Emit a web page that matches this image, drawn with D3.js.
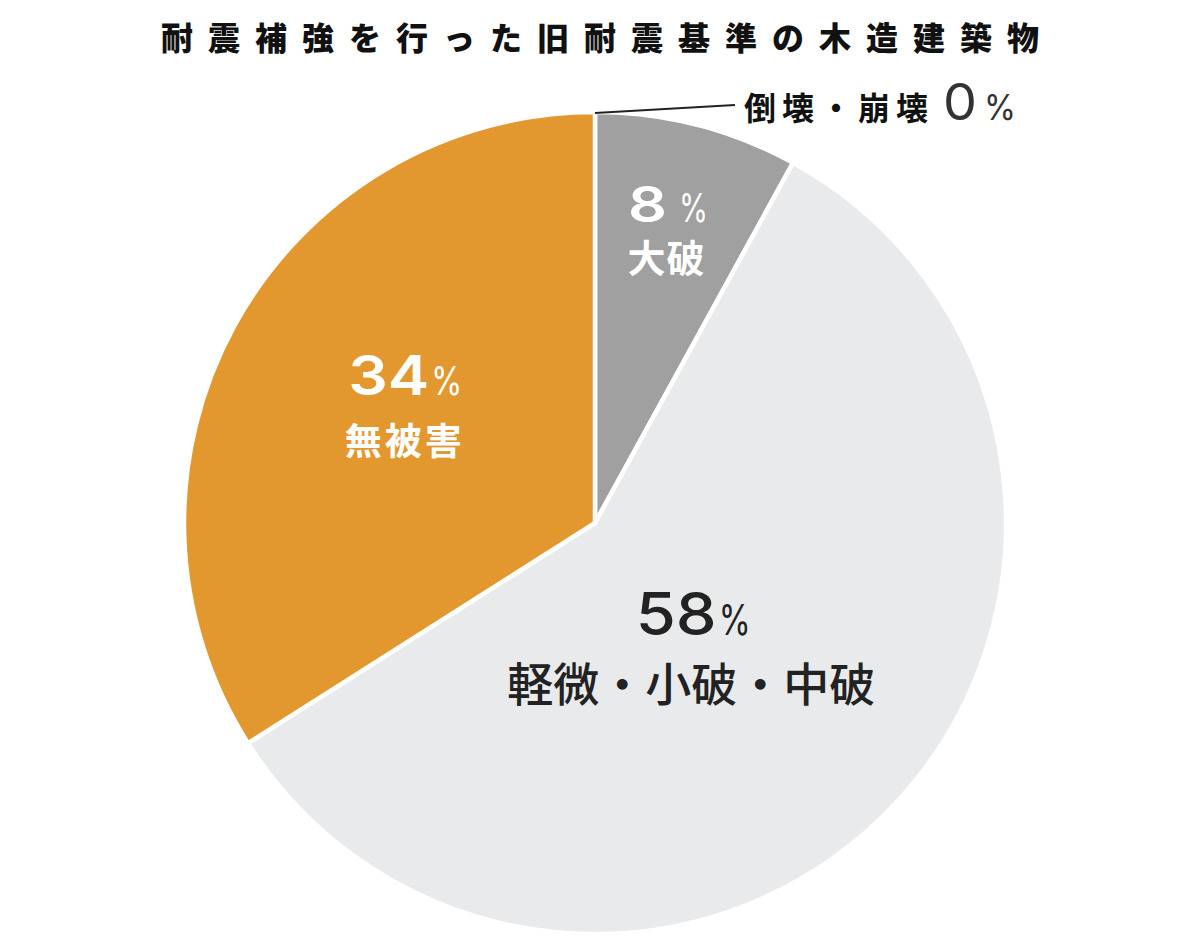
<!DOCTYPE html>
<html>
<head>
<meta charset="utf-8">
<script src="https://cdn.jsdelivr.net/npm/d3@7"></script>
<style>
  body { margin: 0; background: #fff; }
  svg { display: block; }
</style>
</head>
<body>
<svg id="chart" width="1200" height="942"></svg>
<script>
// data
var title = '耐震補強を行った旧耐震基準の木造建築物';
var categories = ['倒壊・崩壊', '大破', '軽微・小破・中破', '無被害'];
var percents = [0, 8, 58, 34];
var colors = ['#a0a0a0', '#a0a0a0', '#e9eaeb', '#e2982f'];

// label look per slice (kept apart from the data)
var labelStyle = {
  '倒壊・崩壊':      { fill: '#333', numSize: 51, numWeight: 400, numW: 34, gap: 7, pctSize: 36, pctW: 32 },
  '大破':            { r: 310, shift: -0.8, fill: '#fff', numSize: 49, numWeight: 600, numW: 39, gap: 12, pctSize: 39, pctW: 29 },
  '軽微・小破・中破': { r: 149, shift: 5.6, fill: '#222', numSize: 59, numWeight: 500, numW: 81, gap: 2, pctSize: 42, pctW: 32 },
  '無被害':          { r: 229, shift: 5.2, fill: '#fff', numSize: 55, numWeight: 600, numW: 81, gap: 2, pctSize: 39, pctW: 31 }
};
var nameStyle = {
  '大破':            { size: 38, weight: 700, space: 1, dy: 50 },
  '軽微・小破・中破': { size: 46, weight: 500, space: 0, dy: 66 },
  '無被害':          { size: 37, weight: 700, space: 3, dy: 60 }
};

var width = 1200, height = 942;
var cx = 595, cy = 523, radius = 411;
var numFont = 'Inter, "Noto Sans", sans-serif';
var jpFont = '"Noto Sans CJK JP", "Noto Sans", sans-serif';

var svg = d3.select('#chart');

svg.append('text')
  .attr('x', width / 2 + 7.5)
  .attr('y', 50)
  .attr('text-anchor', 'middle')
  .style('font-family', jpFont)
  .style('font-size', '32px')
  .style('font-weight', 900)
  .style('letter-spacing', '15px')
  .style('fill', '#111')
  .text(title);

var rows = categories.map(function(c, i) {
  return { name: c, value: percents[i], color: colors[i] };
});

var pie = d3.pie()
  .sort(null)
  .value(function(d) { return d.value; });

var arc = d3.arc()
  .innerRadius(0)
  .outerRadius(radius);

var slices = pie(rows);

var g = svg.append('g')
  .attr('transform', 'translate(' + cx + ',' + cy + ')');

g.selectAll('path.slice')
  .data(slices.filter(function(d) { return d.value > 0; }))
  .enter().append('path')
  .attr('class', 'slice')
  .attr('d', arc)
  .style('fill', function(d) { return d.data.color; })
  .style('stroke', '#fff')
  .style('stroke-width', 4.5)
  .style('stroke-linejoin', 'miter');

// big number + smaller % sign, starting at x
function drawValue(parent, x, y, value, st) {
  parent.append('text')
    .attr('x', x)
    .attr('y', y)
    .attr('textLength', st.numW)
    .attr('lengthAdjust', 'spacingAndGlyphs')
    .style('font-family', numFont)
    .style('font-size', st.numSize + 'px')
    .style('font-weight', st.numWeight)
    .style('fill', st.fill)
    .text(value);
  parent.append('text')
    .attr('x', x + st.numW + st.gap)
    .attr('y', y)
    .attr('textLength', st.pctW)
    .attr('lengthAdjust', 'spacingAndGlyphs')
    .style('font-family', numFont)
    .style('font-size', st.pctSize + 'px')
    .style('font-weight', 400)
    .style('fill', st.fill)
    .text('%');
}

// labels inside the slices
slices.forEach(function(d) {
  var st = labelStyle[d.data.name];
  var ns = nameStyle[d.data.name];
  if (!ns || d.value === 0) return;
  var mid = (d.startAngle + d.endAngle) / 2 + st.shift * Math.PI / 180;
  var pos = d3.arc().innerRadius(st.r).outerRadius(st.r)
    .startAngle(mid).endAngle(mid).centroid();

  var total = st.numW + st.gap + st.pctW;
  drawValue(g, pos[0] - total / 2, pos[1], d.data.value, st);

  g.append('text')
    .attr('x', pos[0] - 2 + ns.space / 2)
    .attr('y', pos[1] + ns.dy)
    .attr('text-anchor', 'middle')
    .style('font-family', jpFont)
    .style('font-size', ns.size + 'px')
    .style('font-weight', ns.weight)
    .style('letter-spacing', ns.space + 'px')
    .style('fill', st.fill)
    .text(d.data.name);
});

// the 0% slice gets a leader line and an outside label
slices.filter(function(d) { return d.value === 0; }).forEach(function(d) {
  var st = labelStyle[d.data.name];
  var edge = d3.arc().innerRadius(radius - 1).outerRadius(radius - 1).centroid(d);
  var end = [edge[0] + 140, edge[1] - 8];

  g.append('line')
    .attr('x1', edge[0])
    .attr('y1', edge[1])
    .attr('x2', end[0])
    .attr('y2', end[1])
    .style('stroke', '#222')
    .style('stroke-width', 2);

  var name = g.append('text')
    .attr('x', end[0] + 9)
    .attr('y', end[1] + 15)
    .style('font-family', jpFont)
    .style('font-size', '32px')
    .style('font-weight', 700)
    .style('letter-spacing', '6px')
    .style('fill', '#111')
    .text(d.data.name);
  var len = name.node().getComputedTextLength();

  drawValue(g, end[0] + 9 + len + 9, end[1] + 15, d.data.value, st);
});
</script>
</body>
</html>
